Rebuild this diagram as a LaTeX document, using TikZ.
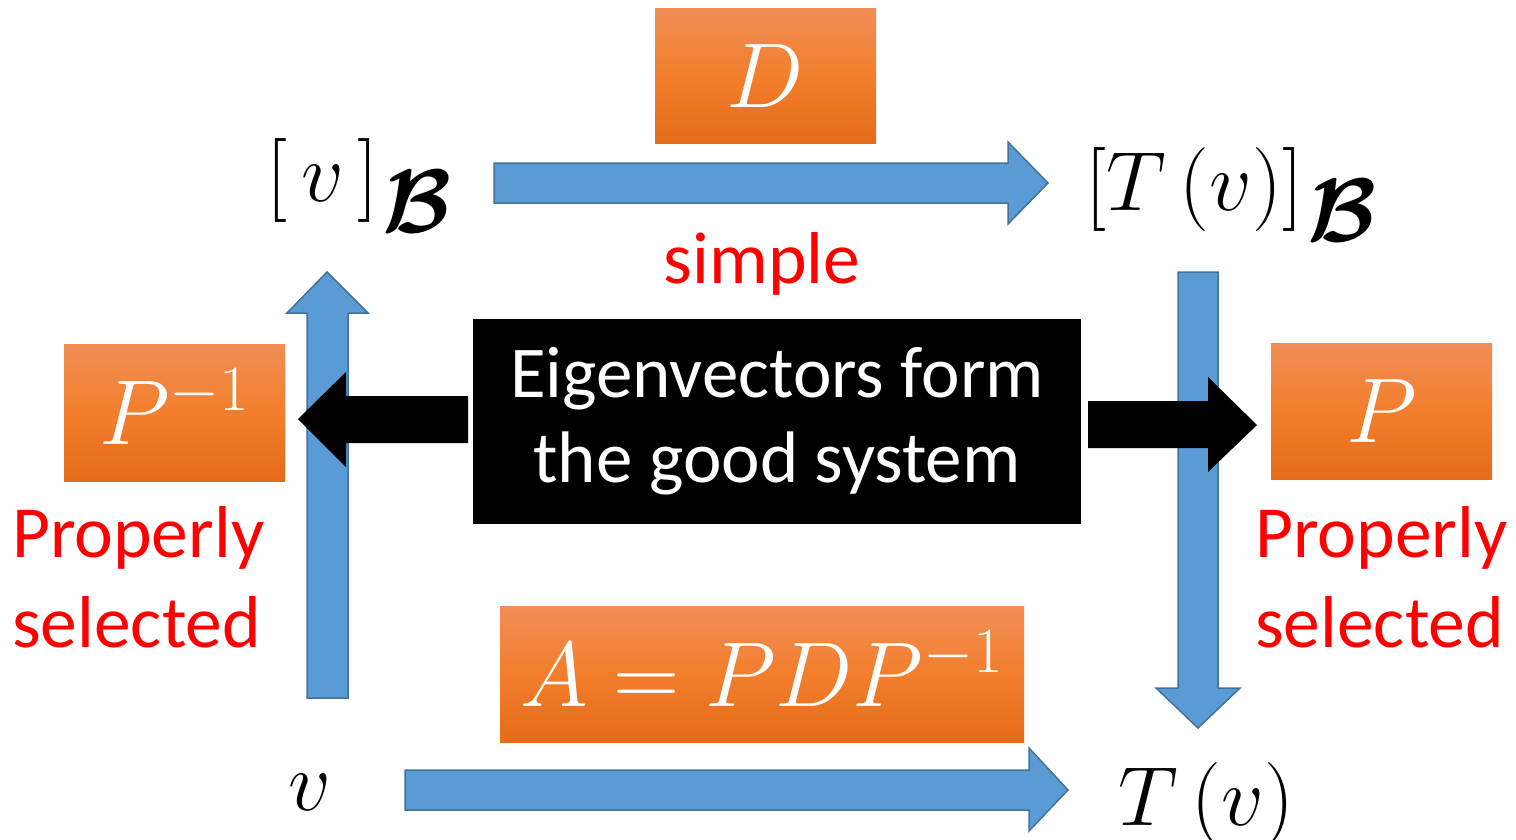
\RequirePackage{fix-cm}
\documentclass[tikz,border=0pt]{standalone}
\usepackage{amsmath}
\usepackage[no-math]{fontspec}
\setmainfont{Carlito}
\definecolor{blueF}{RGB}{91,155,213}
\definecolor{blueD}{RGB}{65,113,156}
\definecolor{orT}{RGB}{241,142,86}
\definecolor{orM}{RGB}{242,126,44}
\definecolor{orB}{RGB}{229,107,24}
\definecolor{redT}{RGB}{255,0,0}
\tikzset{
  blockarrow/.style={fill=blueF,draw=blueD,line width=1.5pt,line join=miter},
  blackarrow/.style={fill=black,draw=none},
  obox/.style={rectangle,draw=none,top color=orT,bottom color=orB,middle color=orM,
    text=white,inner sep=0pt,font=\fontsize{92}{96}\selectfont,text height=63pt,text depth=0pt},
  mathlbl/.style={inner sep=0pt,font=\fontsize{84}{88}\selectfont},
  redlbl/.style={inner sep=0pt,text=redT,font=\fontsize{73.5}{90}\selectfont},
}
\newcommand{\bB}{\raisebox{-31pt}{\fontsize{90}{90}\selectfont$\boldsymbol{\mathcal{B}}$}}
\begin{document}
\begin{tikzpicture}[x=1pt,y=-1pt]
\useasboundingbox (0,0) rectangle (1516,839);
% blue block arrows
\draw[blockarrow] (307,698) -- (307,313) -- (287,313) -- (327,272) -- (368,313) -- (348,313) -- (348,698) -- cycle;
\draw[blockarrow] (494,163) -- (1008,163) -- (1008,142) -- (1048,183) -- (1008,224) -- (1008,203) -- (494,203) -- cycle;
\draw[blockarrow] (1178,272) -- (1218,272) -- (1218,688) -- (1240,688) -- (1198,728) -- (1156,688) -- (1178,688) -- cycle;
\draw[blockarrow] (405,770) -- (1029,770) -- (1029,748) -- (1068,790) -- (1029,831) -- (1029,810) -- (405,810) -- cycle;
% black box and arrows
\node[rectangle,fill=black,text=white,minimum width=608,minimum height=205,inner sep=0pt,
  align=center,font=\fontsize{73}{85}\selectfont] (eig) at (777,421) {Eigenvectors form\\the good system};
\fill[blackarrow] (468,396) -- (346,396) -- (346,372) -- (298,419) -- (346,467) -- (346,443) -- (468,443) -- cycle;
\fill[blackarrow] (1088,401) -- (1208,401) -- (1208,377) -- (1257,425) -- (1208,472) -- (1208,448) -- (1088,448) -- cycle;
% orange boxes
\node[obox,minimum width=221,minimum height=135] (D) at (765.5,75.5) {$D$};
\node[obox,minimum width=221,minimum height=137] (Pinv) at (174.5,412.5) {$P^{-1}$};
\node[obox,minimum width=221,minimum height=136] (P) at (1381.5,411) {$P$};
\node[obox,minimum width=524,minimum height=136] (A) at (762,674.5) {$A=PDP^{-1}$};
% math labels
\node[mathlbl,anchor=base west] (vB) at (266,201) {$[\,v\,]$\kern4pt\bB};
\node[mathlbl,anchor=base west] (TvB) at (1085,210) {$[T\,(v)]$\kern4pt\bB};
\node[mathlbl,anchor=base] (v) at (310,810) {$v$};
\node[mathlbl,anchor=base] (Tv) at (1206,825) {$T\,(v)$};
% red labels
\node[redlbl,anchor=base] (simple) at (762,283) {simple};
\node[redlbl,anchor=base west,align=left] (ps1) at (12,647) {Properly\\selected};
\node[redlbl,anchor=base west,align=left] (ps2) at (1255,647) {Properly\\selected};
\end{tikzpicture}
\end{document}
